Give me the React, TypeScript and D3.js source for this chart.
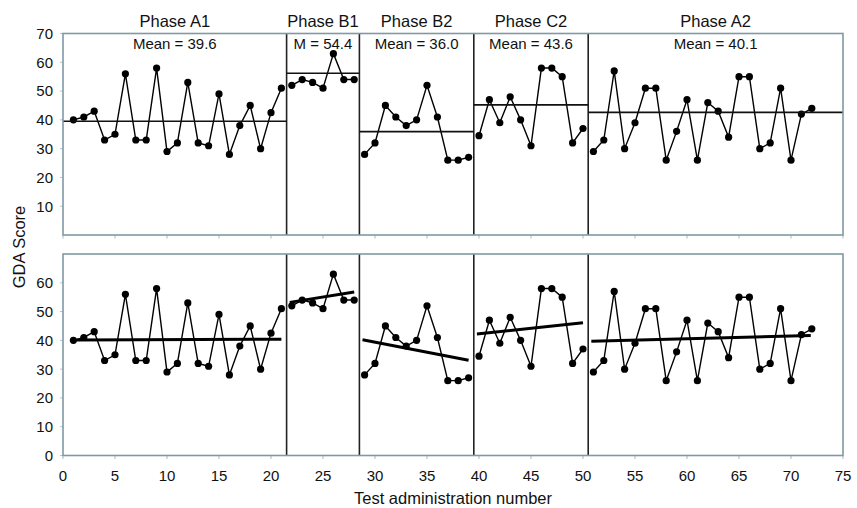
import React from 'react'
import * as d3 from 'd3'

// phases and their sessions (test administration numbers)
const PHASES = ['Phase A1', 'Phase B1', 'Phase B2', 'Phase C2', 'Phase A2']
const MEAN_LABELS = ['Mean = 39.6', 'M = 54.4', 'Mean = 36.0', 'Mean = 43.6', 'Mean = 40.1']
const BOUNDS = [0, 21.5, 28.5, 39.5, 50.5, 75]
const FIRST_SESSION = [1, 22, 29, 40, 51]

const SCORES_A1 = [40, 41, 43, 33, 35, 56, 33, 33, 58, 29, 32, 53, 32, 31, 49, 28, 38, 45, 30, 42.5, 51]
const SCORES_B1 = [52, 54, 53, 51, 63, 54, 54]
const SCORES_B2 = [28, 32, 45, 41, 38, 40, 52, 41, 26, 26, 27]
const SCORES_C2 = [34.5, 47, 39, 48, 40, 31, 58, 58, 55, 32, 37]
const SCORES_A2 = [29, 33, 57, 30, 39, 51, 51, 26, 36, 47, 26, 46, 43, 34, 55, 55, 30, 32, 51, 26, 42, 44]
const SCORES = [SCORES_A1, SCORES_B1, SCORES_B2, SCORES_C2, SCORES_A2]

// level lines as drawn in the top panel
const MEAN_LINE = [39.5, 56.2, 35.9, 45.2, 42.6]
// trend lines in the bottom panel: [x, y] start and end
const TREND_FROM = [[1.3, 40.1], [21.8, 53.2], [28.8, 40.2], [39.8, 42.2], [50.8, 39.7]]
const TREND_TO = [[21, 40.4], [28, 56.8], [39, 33.1], [50, 46.1], [71.9, 41.7]]

const TOP_TICKS = [10, 20, 30, 40, 50, 60, 70]
const BOT_TICKS = [0, 10, 20, 30, 40, 50, 60]
const X_TICKS = [0, 5, 10, 15, 20, 25, 30, 35, 40, 45, 50, 55, 60, 65, 70, 75]

const W = 857, H = 508
const FRAME = '#7f9aa3'
const TICK = '#b9c5c9'
const FONT = 'Liberation Sans, Arial, Helvetica, sans-serif'

export default function App() {
  const x = d3.scaleLinear().domain([0, 75]).range([63, 843])
  const yTop = d3.scaleLinear().domain([0, 70]).range([235, 33.5])
  const yBot = d3.scaleLinear().domain([0, 70]).range([455.5, 254])

  const line = (y: d3.ScaleLinear<number, number>) =>
    d3.line<[number, number]>().x(d => x(d[0])).y(d => y(d[1]))

  const pts = SCORES.map((arr, p) => arr.map((v, i) => [FIRST_SESSION[p] + i, v] as [number, number]))

  function panel(y: d3.ScaleLinear<number, number>, ticks: number[], top: boolean) {
    const [y0, y1] = y.range()
    return (
      <g>
        {/* ticks on left axis */}
        {ticks.map(t => (
          <g key={'yt' + t}>
            <line x1={x(0) - 3} x2={x(0)} y1={y(t)} y2={y(t)} stroke={TICK} />
            <text x={53} y={y(t)} dy="0.36em" textAnchor="end" fontSize={15} fill="#111">{t}</text>
          </g>
        ))}
        {/* x ticks */}
        {X_TICKS.map(t => (
          <line key={'xt' + t} x1={x(t)} x2={x(t)} y1={y0} y2={y0 + 3.5} stroke={TICK} strokeWidth={1.2} />
        ))}
        {!top && X_TICKS.map(t => (
          <text key={'xl' + t} x={x(t)} y={y0 + 25} textAnchor="middle" fontSize={15} fill="#111">{t}</text>
        ))}

        {/* phase boundaries */}
        {BOUNDS.slice(1, -1).map(b => (
          <line key={'b' + b} x1={x(b)} x2={x(b)} y1={y0} y2={y1} stroke="#222" strokeWidth={1.6} />
        ))}

        {/* data */}
        {pts.map((p, i) => (
          <g key={'s' + i}>
            <path d={line(y)(p) || ''} fill="none" stroke="#000" strokeWidth={1.4} />
            {p.map((d, j) => (
              <circle key={j} cx={x(d[0])} cy={y(d[1])} r={3.6} fill="#000" />
            ))}
          </g>
        ))}

        {top && MEAN_LINE.map((m, i) => (
          <line key={'m' + i} x1={x(BOUNDS[i])} x2={x(BOUNDS[i + 1])} y1={y(m)} y2={y(m)} stroke="#111" strokeWidth={1.6} />
        ))}
        {!top && TREND_FROM.map((f, i) => (
          <line key={'tr' + i} x1={x(f[0])} y1={y(f[1])} x2={x(TREND_TO[i][0])} y2={y(TREND_TO[i][1])}
            stroke="#000" strokeWidth={3} />
        ))}

        <rect x={x(0)} y={y1} width={x(75) - x(0)} height={y0 - y1} fill="none" stroke={FRAME} strokeWidth={1.6} />
      </g>
    )
  }

  return (
    <div style={{ position: 'fixed', left: 0, top: 0 }}>
      <svg width={W} height={H} fontFamily={FONT} style={{ display: 'block', background: '#fff' }}>
        {panel(yTop, TOP_TICKS, true)}
        {panel(yBot, BOT_TICKS, false)}

        {PHASES.map((p, i) => {
          const cx = x((BOUNDS[i] + BOUNDS[i + 1]) / 2)
          return (
            <g key={p}>
              <text x={cx} y={26.5} textAnchor="middle" fontSize={16.5} fill="#111">{p}</text>
              <text x={cx} y={48.5} textAnchor="middle" fontSize={15} fill="#111">{MEAN_LABELS[i]}</text>
            </g>
          )
        })}

        <text transform="translate(25,247) rotate(-90)" textAnchor="middle" fontSize={16.5} fill="#111">GDA Score</text>
        <text x={(x(0) + x(75)) / 2} y={503.5} textAnchor="middle" fontSize={16.5} fill="#111">Test administration number</text>
      </svg>
    </div>
  )
}
